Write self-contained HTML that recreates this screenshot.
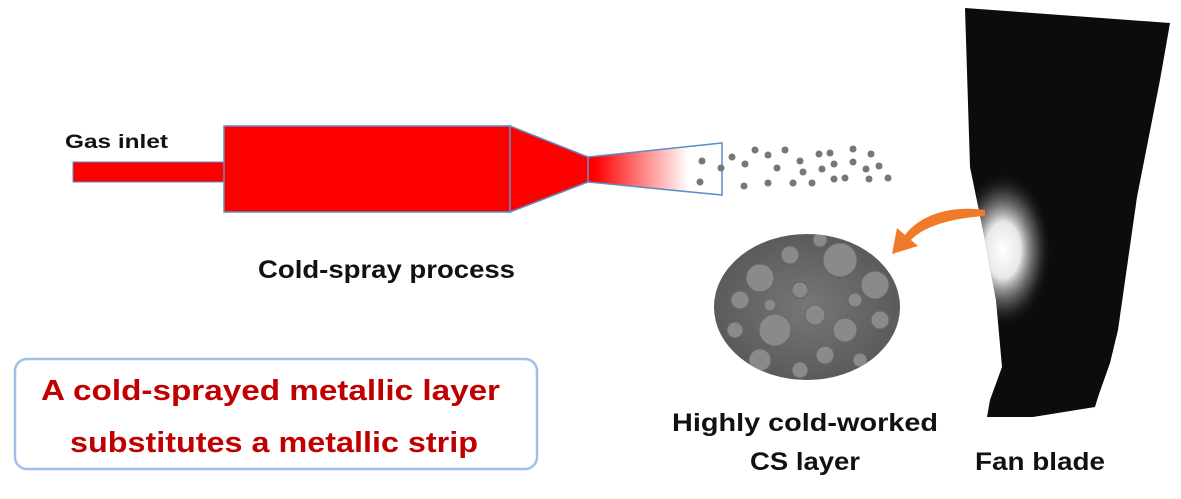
<!DOCTYPE html>
<html><head><meta charset="utf-8"><style>
body{margin:0;background:#fff;width:1181px;height:494px;overflow:hidden;font-family:"Liberation Sans",sans-serif}
</style></head><body>
<svg width="1181" height="494" viewBox="0 0 1181 494">
<defs>
<linearGradient id="g" x1="0" x2="1"><stop offset="0.05" stop-color="#f00"/><stop offset="0.75" stop-color="#fff"/></linearGradient>
<radialGradient id="w" cx="0.45" cy="0.5" r="0.5"><stop offset="0" stop-color="#fff"/><stop offset="0.35" stop-color="#e8e8e8"/><stop offset="0.7" stop-color="#666" stop-opacity="0.6"/><stop offset="1" stop-color="#000" stop-opacity="0"/></radialGradient>
<radialGradient id="sem" cx="0.5" cy="0.5" r="0.6"><stop offset="0" stop-color="#777"/><stop offset="1" stop-color="#555"/></radialGradient>
<clipPath id="ec"><ellipse cx="807" cy="307" rx="93" ry="73"/></clipPath>
<clipPath id="bc"><path d="M965,8 L1170,23 L1160,80 L1137,197 L1118,330 L1110,363 L1098,397 L1095,407 L1033,417 L987,417 L990,400 L1002,367 L996,300 L985,240 L970,167 Z"/></clipPath>
</defs>
<rect x="73" y="162" width="151" height="20" fill="#f00" stroke="#5b8fc7" stroke-width="1"/>
<rect x="224" y="126" width="286" height="86" fill="#f00" stroke="#5b8fc7" stroke-width="1.5"/>
<polygon points="510,126 588,157 588,182 510,212" fill="#f00" stroke="#5b8fc7" stroke-width="1.5"/>
<polygon points="588,157 722,143 722,195 588,182" fill="url(#g)" stroke="#5b8fc7" stroke-width="1.5"/>
<g fill="#777">
<circle cx="702" cy="161" r="3.5"/><circle cx="700" cy="182" r="3.5"/><circle cx="721" cy="168" r="3.5"/>
<circle cx="732" cy="157" r="3.5"/><circle cx="745" cy="164" r="3.5"/><circle cx="755" cy="150" r="3.5"/>
<circle cx="768" cy="155" r="3.5"/><circle cx="785" cy="150" r="3.5"/><circle cx="777" cy="168" r="3.5"/>
<circle cx="744" cy="186" r="3.5"/><circle cx="768" cy="183" r="3.5"/><circle cx="793" cy="183" r="3.5"/>
<circle cx="800" cy="161" r="3.5"/><circle cx="803" cy="172" r="3.5"/><circle cx="812" cy="183" r="3.5"/>
<circle cx="819" cy="154" r="3.5"/><circle cx="830" cy="153" r="3.5"/><circle cx="822" cy="169" r="3.5"/>
<circle cx="834" cy="164" r="3.5"/><circle cx="834" cy="179" r="3.5"/><circle cx="845" cy="178" r="3.5"/>
<circle cx="853" cy="149" r="3.5"/><circle cx="853" cy="162" r="3.5"/><circle cx="871" cy="154" r="3.5"/>
<circle cx="866" cy="169" r="3.5"/><circle cx="879" cy="166" r="3.5"/><circle cx="869" cy="179" r="3.5"/><circle cx="888" cy="178" r="3.5"/>
</g>
<text x="65" y="148" font-size="19" font-weight="bold" fill="#111" textLength="103" lengthAdjust="spacingAndGlyphs">Gas inlet</text>
<text x="258" y="278" font-size="25" font-weight="bold" fill="#111" textLength="257" lengthAdjust="spacingAndGlyphs">Cold-spray process</text>
<rect x="15" y="359" width="522" height="110" rx="12" fill="#fff" stroke="#9ec0e6" stroke-width="2.5"/>
<text x="41" y="400" font-size="29" font-weight="bold" fill="#c00000" textLength="459" lengthAdjust="spacingAndGlyphs">A cold-sprayed metallic layer</text>
<text x="70" y="452" font-size="29" font-weight="bold" fill="#c00000" textLength="408" lengthAdjust="spacingAndGlyphs">substitutes a metallic strip</text>
<!-- blade -->
<path d="M965,8 L1170,23 L1160,80 L1137,197 L1118,330 L1110,363 L1098,397 L1095,407 L1033,417 L987,417 L990,400 L1002,367 L996,300 L985,240 L970,167 Z" fill="#0c0c0c"/>
<g clip-path="url(#bc)"><ellipse cx="1008" cy="250" rx="50" ry="80" fill="url(#w)"/></g>
<!-- arrow -->
<path d="M985,210 C950,205 920,215 905,235 L897,228 L892,254 L918,246 L911,240 C925,225 955,218 985,216 Z" fill="#ef7a2a"/>
<!-- SEM ellipse -->
<ellipse cx="807" cy="307" rx="93" ry="73" fill="url(#sem)"/>
<g clip-path="url(#ec)" fill="#8a8a8a" stroke="#666" stroke-width="1">
<circle cx="840" cy="260" r="17"/><circle cx="760" cy="278" r="14"/><circle cx="875" cy="285" r="14"/>
<circle cx="775" cy="330" r="16"/><circle cx="740" cy="300" r="9"/><circle cx="800" cy="290" r="8"/>
<circle cx="815" cy="315" r="10"/><circle cx="845" cy="330" r="12"/><circle cx="790" cy="255" r="9"/>
<circle cx="880" cy="320" r="9"/><circle cx="760" cy="360" r="11"/><circle cx="825" cy="355" r="9"/>
<circle cx="735" cy="330" r="8"/><circle cx="855" cy="300" r="7"/><circle cx="800" cy="370" r="8"/>
<circle cx="820" cy="240" r="7"/><circle cx="770" cy="305" r="6"/><circle cx="860" cy="360" r="7"/>
</g>
<text x="672" y="431" font-size="25" font-weight="bold" fill="#111" textLength="266" lengthAdjust="spacingAndGlyphs">Highly cold-worked</text>
<text x="750" y="470" font-size="25" font-weight="bold" fill="#111" textLength="110" lengthAdjust="spacingAndGlyphs">CS layer</text>
<text x="975" y="470" font-size="25" font-weight="bold" fill="#111" textLength="130" lengthAdjust="spacingAndGlyphs">Fan blade</text>
</svg>
</body></html>
